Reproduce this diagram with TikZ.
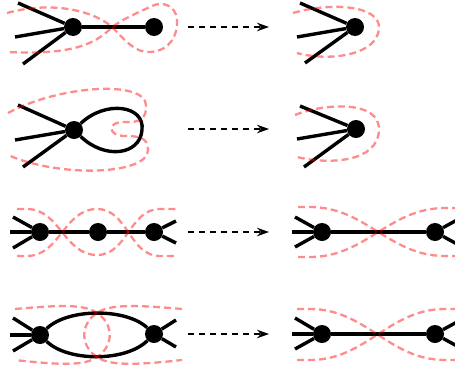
\documentclass[tikz,border=0pt]{standalone}
\usepackage{amsmath,amssymb}
\usepackage{tikz}
\usetikzlibrary{arrows.meta}

\tikzset{
    dot/.style={circle, fill=black, inner sep=0pt, minimum size=18pt},
    leg/.style={black, line width=3.4pt},
    cut/.style={red, opacity=0.45, line width=2.3pt, dash pattern=on 7pt off 4pt},
    reduce/.style={line width=1.8pt, dash pattern=on 5.5pt off 5.5pt, -{Stealth[length=12pt,width=8.5pt]}}
}

\begin{document}
\begin{tikzpicture}[x=1pt, y=-1pt]
    \useasboundingbox (0,0) rectangle (455,370);

    % first row: tadpole
    \node[dot] (a1) at (73,27) {};
    \node[dot] (b1) at (154,27) {};
    \coordinate (a1u) at (18,3);
    \coordinate (a1m) at (15,37);
    \coordinate (a1d) at (23,64);
    \draw[leg] (a1u) -- (a1);
    \draw[leg] (a1m) -- (a1);
    \draw[leg] (a1d) -- (a1);
    \draw[leg] (a1) -- (b1);
    \draw[cut] (7,13) .. controls (55,0) and (95,12) .. (112,27)
        .. controls (125,40) and (135,53) .. (150,52)
        .. controls (170,51) and (178,35) .. (177,20)
        .. controls (176,5) and (162,1) .. (152,6)
        .. controls (135,14) and (125,18) .. (112,27)
        .. controls (95,45) and (70,55) .. (7,52);

    \node[dot] (s1) at (355,27) {};
    \coordinate (s1u) at (300,3);
    \coordinate (s1m) at (297,37);
    \coordinate (s1d) at (305,63);
    \draw[leg] (s1u) -- (s1);
    \draw[leg] (s1m) -- (s1);
    \draw[leg] (s1d) -- (s1);
    \draw[cut] (293,13) .. controls (330,2) and (380,5) .. (379,28)
        .. controls (378,55) and (330,62) .. (297,53);

    % second row: self loop
    \node[dot] (a2) at (74,130) {};
    \coordinate (a2u) at (18,105);
    \coordinate (a2m) at (15,140);
    \coordinate (a2d) at (23,167);
    \coordinate (t2) at (142,130);
    \draw[leg] (a2u) -- (a2);
    \draw[leg] (a2m) -- (a2);
    \draw[leg] (a2d) -- (a2);
    \draw[leg] (a2) .. controls (105,100) and (145,105) .. (t2)
        .. controls (140,155) and (105,160) .. (a2);
    \draw[cut] (8,113) .. controls (60,85) and (145,80) .. (146,105)
        .. controls (147,118) and (140,123) .. (125,122)
        .. controls (107,121) and (107,136) .. (125,136)
        .. controls (140,136) and (148,138) .. (148,150)
        .. controls (148,175) and (60,178) .. (8,155);

    \node[dot] (s2) at (356,129) {};
    \coordinate (s2u) at (300,106);
    \coordinate (s2m) at (297,139);
    \coordinate (s2d) at (304,167);
    \draw[leg] (s2u) -- (s2);
    \draw[leg] (s2m) -- (s2);
    \draw[leg] (s2d) -- (s2);
    \draw[cut] (295,115) .. controls (325,103) and (380,100) .. (379,130)
        .. controls (378,162) and (330,165) .. (297,157);

    % third row: chain
    \node[dot] (a3) at (40,232) {};
    \node[dot] (b3) at (98,232) {};
    \node[dot] (c3) at (154,232) {};
    \coordinate (a3u) at (13,217);
    \coordinate (a3m) at (10,232);
    \coordinate (a3d) at (13,248);
    \coordinate (c3u) at (176,221);
    \coordinate (c3d) at (176,243);
    \draw[leg] (a3u) -- (a3);
    \draw[leg] (a3m) -- (a3) -- (b3) -- (c3);
    \draw[leg] (a3d) -- (a3);
    \draw[leg] (c3) -- (c3u);
    \draw[leg] (c3) -- (c3d);
    \draw[cut] (17,209) -- (27,209) to[out=0,in=180] (97,255)
        to[out=0,in=180] (160,209) -- (177,209);
    \draw[cut] (17,256) -- (27,256) to[out=0,in=180] (97,209)
        to[out=0,in=180] (160,256) -- (177,256);

    \node[dot] (s3) at (322,232) {};
    \node[dot] (t3) at (435,232) {};
    \coordinate (s3u) at (295,217);
    \coordinate (s3m) at (292,232);
    \coordinate (s3d) at (295,247);
    \coordinate (t3u) at (457,220);
    \coordinate (t3d) at (457,244);
    \draw[leg] (s3u) -- (s3);
    \draw[leg] (s3m) -- (s3) -- (t3);
    \draw[leg] (s3d) -- (s3);
    \draw[leg] (t3) -- (t3u);
    \draw[leg] (t3) -- (t3d);
    \draw[cut] (298,207) -- (310,207) to[out=0,in=180] (445,256) -- (455,256);
    \draw[cut] (298,257) -- (310,257) to[out=0,in=180] (445,208) -- (455,208);

    % fourth row: double edge
    \node[dot] (a4) at (40,335) {};
    \node[dot] (b4) at (154,334) {};
    \coordinate (a4u) at (13,318);
    \coordinate (a4m) at (10,335);
    \coordinate (a4d) at (13,351);
    \coordinate (b4u) at (176,320);
    \coordinate (b4d) at (176,347);
    \draw[leg] (a4u) -- (a4);
    \draw[leg] (a4m) -- (a4);
    \draw[leg] (a4d) -- (a4);
    \draw[leg] (b4) -- (b4u);
    \draw[leg] (b4) -- (b4d);
    \draw[leg] (a4) .. controls (68,308) and (126,308) .. (b4);
    \draw[leg] (a4) .. controls (68,362) and (126,362) .. (b4);
    \draw[cut] (15,309) .. controls (60,305) and (85,304) .. (97,313)
        .. controls (114,324) and (114,346) .. (97,357)
        .. controls (85,366) and (60,365) .. (15,360);
    \draw[cut] (182,309) .. controls (137,305) and (109,304) .. (97,313)
        .. controls (80,324) and (80,346) .. (97,357)
        .. controls (109,366) and (137,365) .. (182,360);

    \node[dot] (s4) at (322,334) {};
    \node[dot] (t4) at (435,334) {};
    \coordinate (s4u) at (295,318);
    \coordinate (s4m) at (292,334);
    \coordinate (s4d) at (295,349);
    \coordinate (t4u) at (457,322);
    \coordinate (t4d) at (457,346);
    \draw[leg] (s4u) -- (s4);
    \draw[leg] (s4m) -- (s4) -- (t4);
    \draw[leg] (s4d) -- (s4);
    \draw[leg] (t4) -- (t4u);
    \draw[leg] (t4) -- (t4d);
    \draw[cut] (297,309) -- (310,309) to[out=0,in=180] (445,360) -- (455,360);
    \draw[cut] (297,360) -- (310,360) to[out=0,in=180] (445,309) -- (455,309);

    % reduction arrows
    \foreach \y [count=\i] in {27,129,232,334} {
        \coordinate (p\i) at (188,\y);
        \coordinate (q\i) at (269,\y);
        \draw[reduce] (p\i) -- (q\i);
    }
\end{tikzpicture}
\end{document}
